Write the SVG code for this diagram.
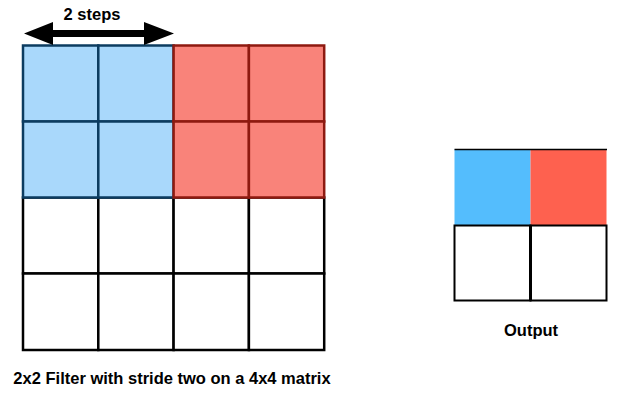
<svg xmlns="http://www.w3.org/2000/svg" width="637" height="407" viewBox="0 0 637 407">
<style>
.t{font-family:"Liberation Sans",Arial,sans-serif;font-weight:bold;font-size:16.5px;fill:#000;text-anchor:middle}
.w{fill:#fff;stroke:#000;stroke-width:2.5}
.b{fill:#a9d8fb;stroke:#0c3c60;stroke-width:2.5}
.r{fill:#f9837a;stroke:#8e1a10;stroke-width:2.5}
</style>
<rect width="637" height="407" fill="#fff"/>
<g id="input-matrix">
<rect class="w" x="23" y="197.5" width="75.3" height="76"/>
<rect class="w" x="98.3" y="197.5" width="75.3" height="76"/>
<rect class="w" x="173.6" y="197.5" width="75.3" height="76"/>
<rect class="w" x="248.9" y="197.5" width="75.3" height="76"/>
<rect class="w" x="23" y="273.5" width="75.3" height="76.5"/>
<rect class="w" x="98.3" y="273.5" width="75.3" height="76.5"/>
<rect class="w" x="173.6" y="273.5" width="75.3" height="76.5"/>
<rect class="w" x="248.9" y="273.5" width="75.3" height="76.5"/>
</g>
<g id="blue-filter">
<rect class="b" x="23" y="45.5" width="75.3" height="76"/>
<rect class="b" x="98.3" y="45.5" width="75.3" height="76"/>
<rect class="b" x="23" y="121.5" width="75.3" height="76"/>
<rect class="b" x="98.3" y="121.5" width="75.3" height="76"/>
</g>
<g id="red-filter">
<rect class="r" x="173.6" y="45.5" width="75.3" height="76"/>
<rect class="r" x="248.9" y="45.5" width="75.3" height="76"/>
<rect class="r" x="173.6" y="121.5" width="75.3" height="76"/>
<rect class="r" x="248.9" y="121.5" width="75.3" height="76"/>
</g>
<g id="connectors">
<polygon fill="#000" points="24,33.5 53,22 53,30 144,30 144,22 174,33.5 144,45 144,37 53,37 53,45"/>
</g>
<g id="steps-label"><text class="t" x="92" y="20">2 steps</text></g>
<g id="output">
<rect x="454.5" y="149.5" width="76" height="76" fill="#54bdfd"/>
<rect x="530.5" y="149.5" width="76" height="76" fill="#fe614f"/>
<line x1="454.5" y1="149.5" x2="607" y2="149.5" stroke="#000" stroke-width="1.5"/>
<rect x="454.5" y="225.5" width="76" height="75" fill="#fff" stroke="#000" stroke-width="2"/>
<rect x="530.5" y="225.5" width="76" height="75" fill="#fff" stroke="#000" stroke-width="2"/>
<line x1="530.5" y1="225.5" x2="530.5" y2="300.5" stroke="#000" stroke-width="3"/>
</g>
<g id="output-label"><text class="t" x="531" y="336">Output</text></g>
<g id="caption"><text class="t" x="172" y="384">2x2 Filter with stride two on a 4x4 matrix</text></g>
</svg>
